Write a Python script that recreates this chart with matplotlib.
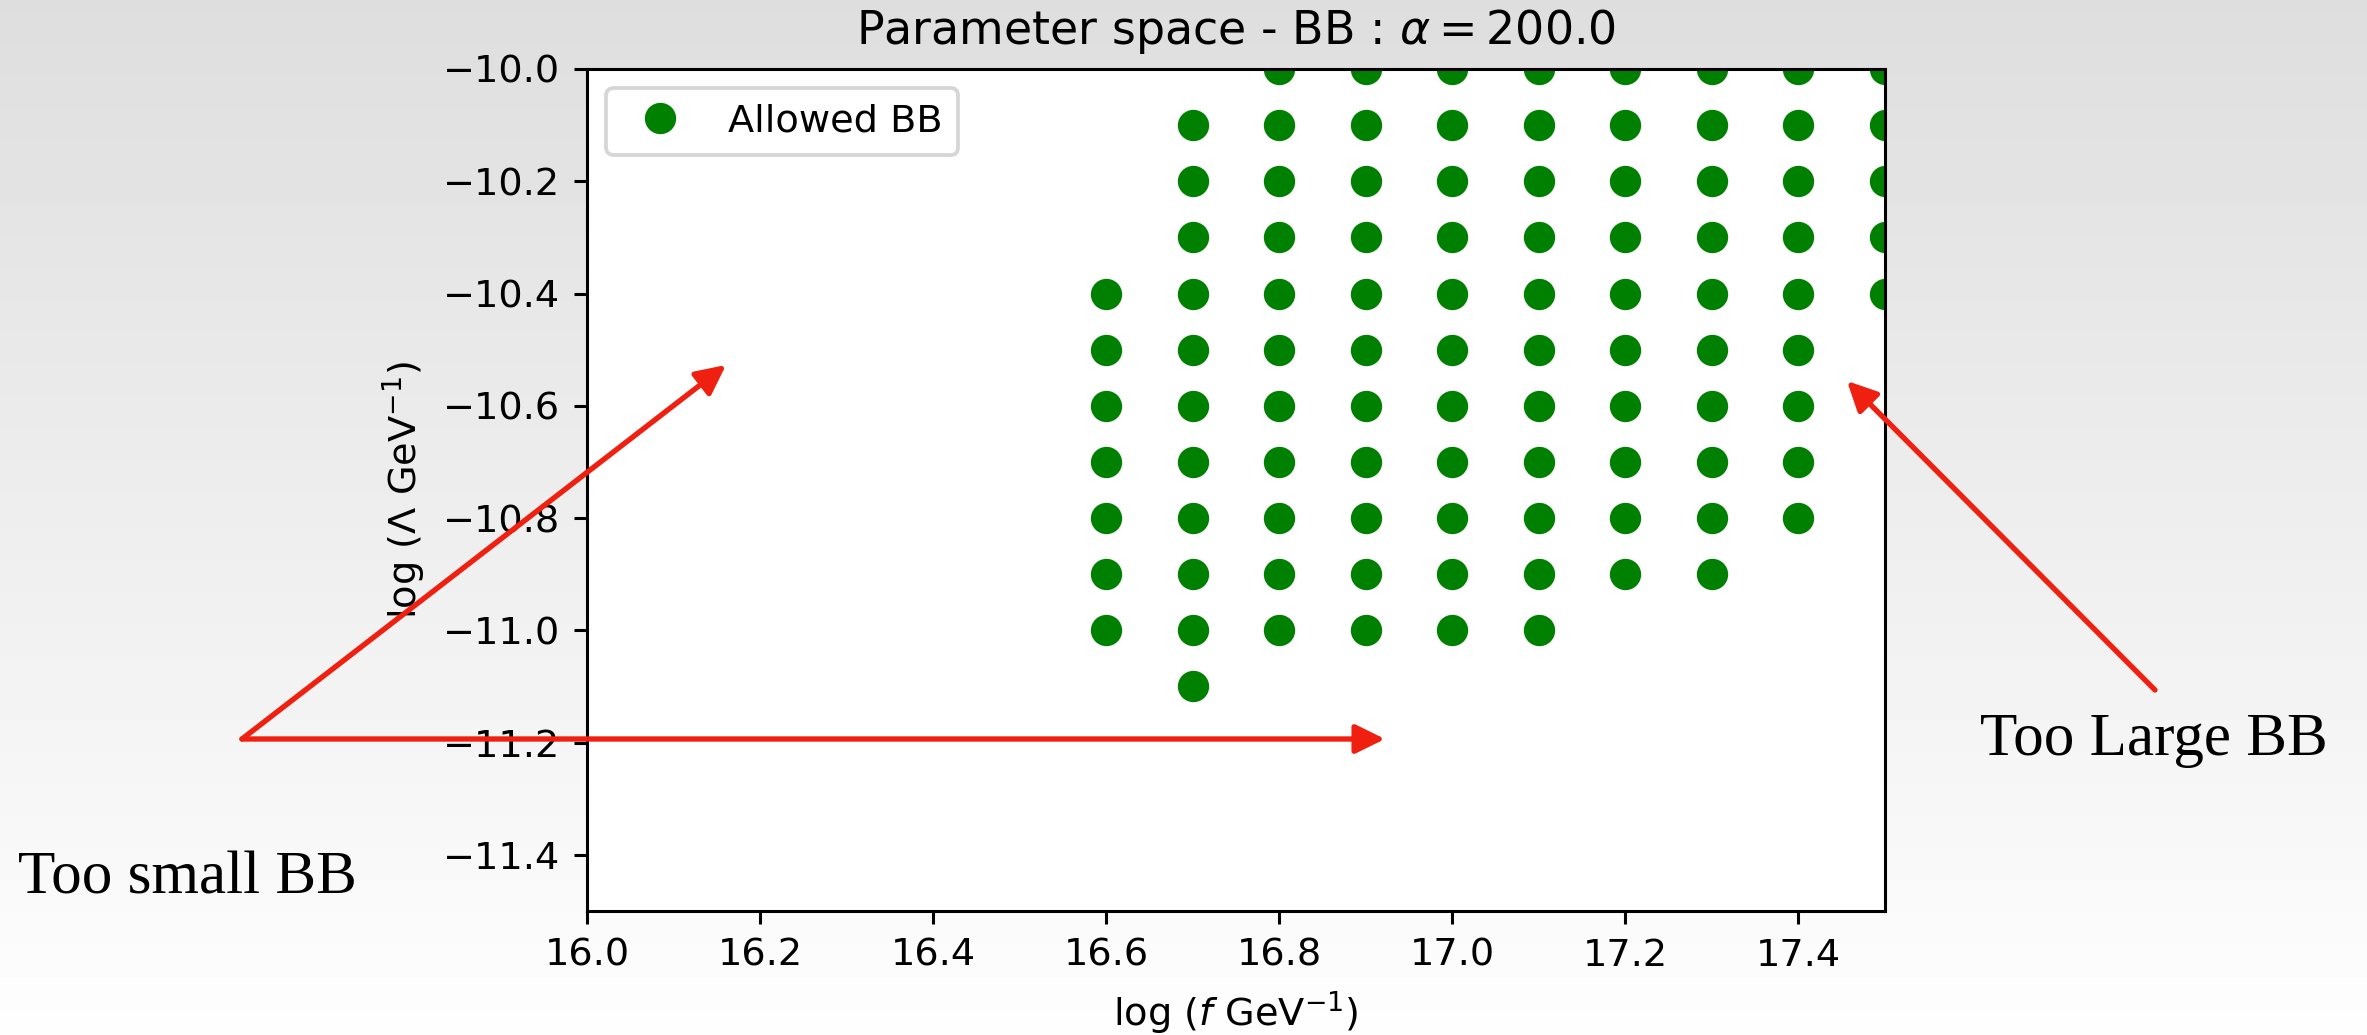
import numpy as np
import matplotlib
matplotlib.use("Agg")
import matplotlib.pyplot as plt
from matplotlib.patches import FancyArrowPatch

# Scanned grid points that give an allowed baby-universe (BB) configuration
f_columns = [16.6, 16.7, 16.8, 16.9, 17.0, 17.1, 17.2, 17.3, 17.4, 17.5]
lambda_columns = [
    [-10.4, -10.5, -10.6, -10.7, -10.8, -10.9, -11.0],
    [-10.1, -10.2, -10.3, -10.4, -10.5, -10.6, -10.7, -10.8, -10.9, -11.0, -11.1],
    [-10.0, -10.1, -10.2, -10.3, -10.4, -10.5, -10.6, -10.7, -10.8, -10.9, -11.0],
    [-10.0, -10.1, -10.2, -10.3, -10.4, -10.5, -10.6, -10.7, -10.8, -10.9, -11.0],
    [-10.0, -10.1, -10.2, -10.3, -10.4, -10.5, -10.6, -10.7, -10.8, -10.9, -11.0],
    [-10.0, -10.1, -10.2, -10.3, -10.4, -10.5, -10.6, -10.7, -10.8, -10.9, -11.0],
    [-10.0, -10.1, -10.2, -10.3, -10.4, -10.5, -10.6, -10.7, -10.8, -10.9],
    [-10.0, -10.1, -10.2, -10.3, -10.4, -10.5, -10.6, -10.7, -10.8, -10.9],
    [-10.0, -10.1, -10.2, -10.3, -10.4, -10.5, -10.6, -10.7, -10.8],
    [-10.0, -10.1, -10.2, -10.3, -10.4],
]
alpha_value = 200.0

x_ticks = [16.0, 16.2, 16.4, 16.6, 16.8, 17.0, 17.2, 17.4]
y_ticks = [-10.0, -10.2, -10.4, -10.6, -10.8, -11.0, -11.2, -11.4]

f_points = [f for f, lams in zip(f_columns, lambda_columns) for _ in lams]
lambda_points = [lam for lams in lambda_columns for lam in lams]

W, H, DPI = 2367, 1035, 275
fig = plt.figure(figsize=(W / DPI, H / DPI), dpi=DPI)

# soft vertical grey gradient behind everything
bg = fig.add_axes([0, 0, 1, 1], zorder=-10)
grad = np.linspace(0.87, 0.995, 256).reshape(-1, 1)
bg.imshow(grad, cmap="gray", vmin=0, vmax=1, aspect="auto",
          extent=[0, 1, 0, 1], origin="upper", interpolation="bicubic")
bg.set_axis_off()

ax = fig.add_axes([587 / W, 1 - 911 / H, (1885 - 587) / W, (911 - 69) / H])
ax.set_facecolor("white")
ax.plot(f_points, lambda_points, "o", color="green", markersize=7.2,
        linestyle="none", label="Allowed BB")
ax.set_xlim(16.0, 17.5)
ax.set_ylim(-11.5, -10.0)
ax.set_xticks(x_ticks)
ax.set_yticks(y_ticks)
ax.set_xlabel(r"$\log\,(f\ \mathrm{GeV}^{-1})$")
ax.set_ylabel(r"$\log\,(\Lambda\ \mathrm{GeV}^{-1})$")
ax.set_title(r"Parameter space - BB : $\alpha = %.1f$" % alpha_value, pad=6.5)
ax.legend(loc="upper left")

# annotations marking the excluded regions
red = "#f02010"
arrow_style = "-|>,head_length=6.5,head_width=3.2"


def fig_arrow(p0, p1):
    fig.add_artist(FancyArrowPatch(
        (p0[0] / W, 1 - p0[1] / H), (p1[0] / W, 1 - p1[1] / H),
        transform=fig.transFigure, arrowstyle=arrow_style, mutation_scale=1,
        lw=1.4, color=red, shrinkA=0, shrinkB=0, zorder=20))


fig_arrow((242, 739), (726, 365))
fig_arrow((242, 739), (1385, 739))
fig_arrow((2155, 690), (1847, 381))

serif = ["Liberation Serif", "DejaVu Serif"]
fig.text(18 / W, 1 - 893 / H, "Too small BB", family=serif, fontsize=16,
         ha="left", va="baseline")
fig.text(1980 / W, 1 - 755 / H, "Too Large BB", family=serif, fontsize=16,
         ha="left", va="baseline")

fig.savefig("out.png", dpi=DPI)
